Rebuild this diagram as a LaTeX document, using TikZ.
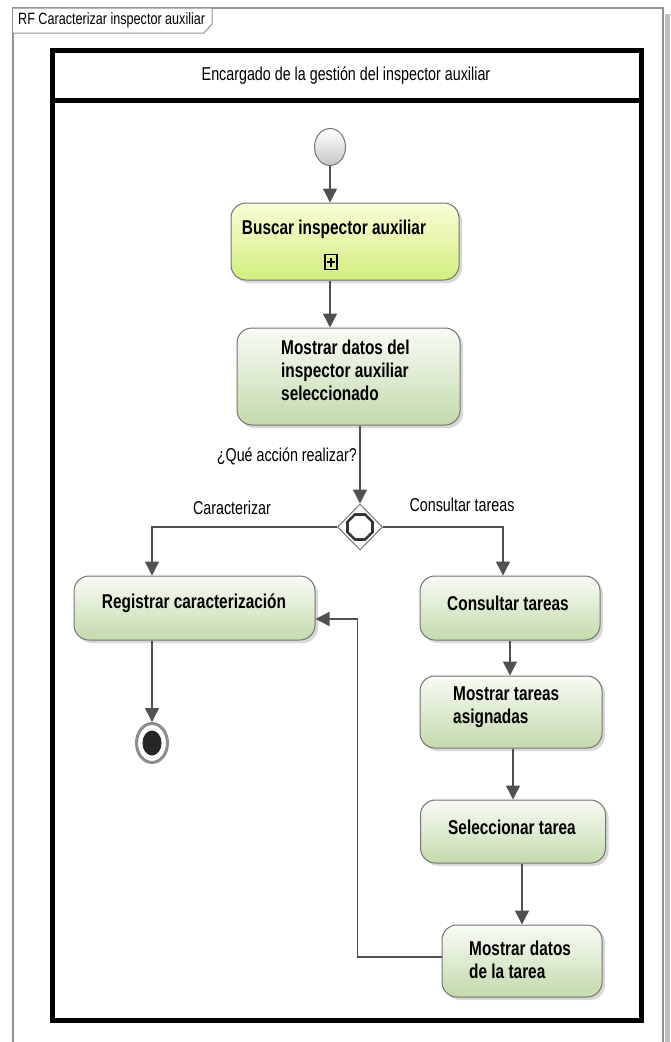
\documentclass[tikz,border=0pt]{standalone}
\usepackage{fontspec}
\usepackage{graphicx}
\setmainfont{Liberation Sans}
\usetikzlibrary{shadows,arrows.meta,shapes.geometric}
\definecolor{lineg}{RGB}{80,80,80}
\definecolor{boxb}{RGB}{115,115,115}
\definecolor{gtop}{RGB}{248,251,245}
\definecolor{gbot}{RGB}{196,218,172}
\definecolor{ytop}{RGB}{250,253,215}
\definecolor{ybot}{RGB}{210,238,125}
\definecolor{frameg}{RGB}{145,145,145}
\newcommand\vst[1]{\scalebox{1}[1.3]{#1}}
\newcommand\vml[1]{\scalebox{1}[1.3]{\begin{tabular}{@{}l@{}}#1\end{tabular}}}
\begin{document}
\begin{tikzpicture}[x=1pt,y=-1pt,
  act/.style={draw=boxb, line width=1pt, rounded corners=15pt, inner sep=0pt,
    drop shadow={shadow xshift=3pt, shadow yshift=-3pt, fill=black!30}},
  greenact/.style={act, top color=gtop, bottom color=gbot},
  yellowact/.style={act, top color=ytop, bottom color=ybot},
  lbl/.style={font=\fontsize{15.4}{17.7}\selectfont\bfseries, align=left, inner sep=0pt},
  txt/.style={font=\fontsize{14.3}{16}\selectfont, inner sep=0pt},
  flow/.style={draw=lineg, line width=1.4pt, -{Triangle[width=14pt,length=14pt]}}]
\useasboundingbox (0,0) rectangle (671,1042);
\fill[white] (0,0) rectangle (671,1042);
% outer frame
\fill[black!25] (665,14) rectangle (670,1042);
\draw[frameg, line width=1.5pt] (13,1050) -- (13,8) -- (663,8) -- (663,1050);
\draw[frameg, fill=white, line width=1pt] (13,8) -- (212,8) -- (212,24) -- (204,33) -- (13,33);
\node[font=\fontsize{12.6}{14}\selectfont, anchor=west, inner sep=0pt, text=black] (title) at (18,20) {\vst{RF Caracterizar inspector auxiliar}};
% swimlane
\draw[line width=5pt] (52,50) rectangle (641,1020);
\draw[line width=5pt] (52,100) -- (641,100);
\node[txt] (lane) at (346,76) {\vst{Encargado de la gestión del inspector auxiliar}};
% start
\node[ellipse, draw=boxb, line width=1pt, top color=white, bottom color=black!22,
  minimum width=31pt, minimum height=37pt, inner sep=0pt] (start) at (330,147) {};
% activities
\node[yellowact, minimum width=228pt, minimum height=77pt] (buscar) at (345,241.5) {};
\node[lbl] (buscarT) at (334,229) {\vst{Buscar inspector auxiliar}};
\node[draw, line width=1.3pt, minimum width=12pt, minimum height=15pt, inner sep=0pt] (plus) at (331,262) {};
\draw[line width=2pt] (plus.center) +(-4,0) -- +(4,0);
\draw[line width=2pt] (plus.center) +(0,-4.5) -- +(0,4.5);
\node[greenact, minimum width=223pt, minimum height=97pt] (mostrar) at (348.5,376.5) {};
\node[lbl, anchor=west] (mostrarT) at (281,373) {\vml{Mostrar datos del\\inspector auxiliar\\seleccionado}};
% decision
\node[diamond, draw=boxb, fill=white, line width=1pt, minimum width=45pt, minimum height=46pt, inner sep=0pt] (dec) at (360,527) {};
\node[regular polygon, regular polygon sides=8, draw=black!80, line width=2.6pt, minimum size=27pt, inner sep=0pt] (oct) at (dec.center) {};
\node[txt, anchor=east] (q) at (357,456) {\vst{¿Qué acción realizar?}};
\node[txt] (carT) at (232,508) {\vst{Caracterizar}};
\node[txt] (conT) at (462,505) {\vst{Consultar tareas}};
% branches
\node[greenact, minimum width=241pt, minimum height=64pt] (reg) at (194.5,608) {};
\node[lbl] (regT) at (194,603) {\vst{Registrar caracterización}};
\node[greenact, minimum width=180pt, minimum height=64pt] (cons) at (510,608) {};
\node[lbl] (consT) at (508,603) {\vst{Consultar tareas}};
\node[greenact, minimum width=182pt, minimum height=72pt] (asig) at (511,712) {};
\node[lbl, anchor=west] (asigT) at (453,707) {\vml{Mostrar tareas\\asignadas}};
\node[greenact, minimum width=185pt, minimum height=63pt] (sel) at (513,831.5) {};
\node[lbl] (selT) at (512,827) {\vst{Seleccionar tarea}};
\node[greenact, minimum width=160pt, minimum height=72pt] (datos) at (522,961) {};
\node[lbl, anchor=west] (datosT) at (469,962) {\vml{Mostrar datos\\de la tarea}};
% final
\node[ellipse, draw=black!45, fill=white, line width=3pt, minimum width=31pt, minimum height=39pt, inner sep=0pt] (final) at (152,743) {};
\fill[black!85] (final.center) ellipse (9.5pt and 12.5pt);
% flows
\draw[flow] (start) -- (start |- buscar.north);
\draw[flow] (start |- buscar.south) -- (start |- mostrar.north);
\draw[flow] (dec |- mostrar.south) -- (dec.north);
\draw[flow] (dec.west) -| ([xshift=-42.5pt]reg.north);
\draw[flow] (dec.east) -| ([xshift=-7pt]cons.north);
\draw[flow] ([xshift=-42.5pt]reg.south) -- (final.north);
\draw[flow] (cons.south) -- (cons.south |- asig.north);
\draw[flow] (asig.south -| sel) -- (sel.north);
\draw[flow] (sel.south -| datos) -- (datos.north);
\draw[flow] ([yshift=4pt]datos.west) -- ++(-84,0) |- ([yshift=-11pt]reg.east);
\end{tikzpicture}
\end{document}
